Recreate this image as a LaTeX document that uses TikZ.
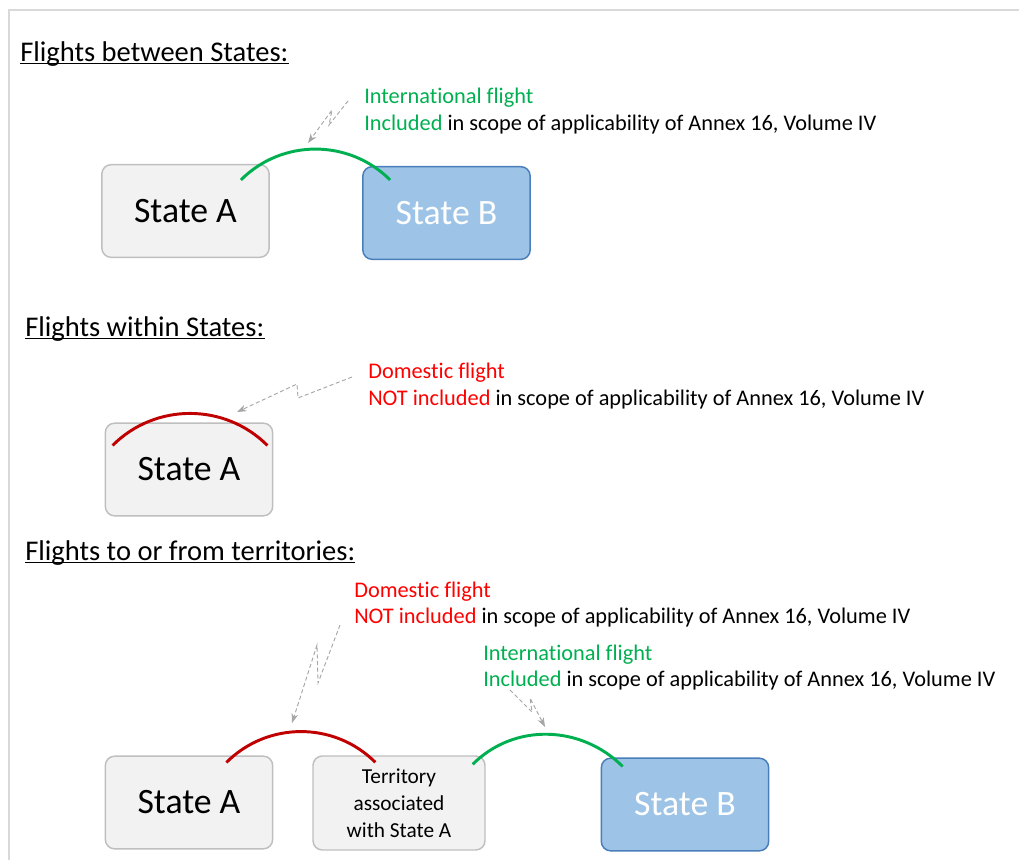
\documentclass[tikz,border=0pt]{standalone}
\usepackage{fontspec}
\setmainfont{Carlito}[Ligatures=CommonOff]
\usetikzlibrary{calc,arrows.meta}
\definecolor{flightgreen}{HTML}{00B050}
\definecolor{textred}{HTML}{FF0000}
\definecolor{arcred}{HTML}{C00000}
\definecolor{boxgray}{HTML}{F2F2F2}
\definecolor{boxline}{HTML}{BFBFBF}
\definecolor{stateblue}{HTML}{9DC3E6}
\definecolor{blueline}{HTML}{4A7EBB}
\definecolor{boltgray}{HTML}{A6A6A6}
\definecolor{framegray}{HTML}{D9D9D9}

\tikzset{
  statebox/.style={draw=boxline, fill=boxgray, line width=1.1pt, rounded corners=7pt,
    minimum width=125.5pt, minimum height=69.5pt, font=\fontsize{26.8}{32}\selectfont},
  bluebox/.style={statebox, draw=blueline, fill=stateblue, text=white},
  terrbox/.style={statebox, minimum width=129pt, minimum height=70.5pt, align=center,
    font=\fontsize{16}{20.25}\selectfont},
  heading/.style={anchor=base west, inner sep=0pt, font=\fontsize{21.4}{25}\selectfont},
  note/.style={anchor=base west, inner sep=0pt, font=\fontsize{16.75}{20}\selectfont},
  flight/.style={line width=2.2pt},
  bolt/.style={draw=boltgray, densely dashed, line width=0.7pt,
    -{Stealth[length=7pt,width=5pt,inset=2pt]}},
}

\begin{document}
\begin{tikzpicture}[x=0.75pt,y=-0.75pt]
  \useasboundingbox (0,0) rectangle (1019,860);
  \draw[framegray, line width=1.3pt] (9,860) -- (9,10) -- (1019,10);

  % flights between states
  \node[heading] (h1) at (20,61) {Flights between States:};
  \draw[line width=1pt] ([yshift=-2pt]h1.base west) -- ([yshift=-2pt]h1.base east);
  \node[statebox] (sa1) at (185.5,211) {State A};
  \node[bluebox] (sb1) at (446.5,213) {State B};
  \node[note] (intl1) at (364,103) {\textcolor{flightgreen}{International flight}};
  \node[note] (incl1) at (364,130) {\textcolor{flightgreen}{Included} in scope of applicability of Annex 16, Volume IV};
  \coordinate (g1a) at ($(sa1.north east)+(-29,16)$);
  \coordinate (g1b) at ($(sb1.north west)+(28,14)$);
  \draw[flight, flightgreen] (g1a) to[out=45,in=135] (g1b);
  \draw[bolt] (348,101) -- (329,125) -- (332,110) -- (308,143);

  % flights within states
  \node[heading] (h2) at (25,336) {Flights within States:};
  \draw[line width=1pt] ([yshift=-2pt]h2.base west) -- ([yshift=-2pt]h2.base east);
  \node[statebox] (sa2) at (189,469.5) {State A};
  \node[note] (dom2) at (368,378) {\textcolor{textred}{Domestic flight}};
  \node[note] (notinc2) at (368,405) {\textcolor{textred}{NOT included} in scope of applicability of Annex 16, Volume IV};
  \coordinate (r2a) at ($(sa2.north west)+(8,23)$);
  \coordinate (r2b) at ($(sa2.north east)+(-6,23)$);
  \draw[flight, arcred] (r2a) to[out=45,in=135] (r2b);
  \draw[bolt] (352,377) -- (298,398) -- (297,384) -- (237,412);

  % flights to or from territories
  \node[heading] (h3) at (25,560) {Flights to or from territories:};
  \draw[line width=1pt] ([yshift=-2pt]h3.base west) -- ([yshift=-2pt]h3.base east);
  \node[statebox] (sa3) at (189,802.5) {State A};
  \node[terrbox] (ter3) at (399,803) {Territory\\associated\\with State A};
  \node[bluebox] (sb3) at (685,804.5) {State B};
  \node[note] (dom3) at (354,597) {\textcolor{textred}{Domestic flight}};
  \node[note] (notinc3) at (354,623) {\textcolor{textred}{NOT included} in scope of applicability of Annex 16, Volume IV};
  \node[note] (intl3) at (483,660) {\textcolor{flightgreen}{International flight}};
  \node[note] (incl3) at (483,686) {\textcolor{flightgreen}{Included} in scope of applicability of Annex 16, Volume IV};
  \coordinate (r3a) at ($(sa3.north east)+(-47,7)$);
  \coordinate (r3b) at ($(ter3.north west)+(63,7)$);
  \draw[flight, arcred] (r3a) to[out=45,in=135] (r3b);
  \coordinate (g3a) at ($(ter3.north east)+(-13,9)$);
  \coordinate (g3b) at ($(sb3.north west)+(22,9)$);
  \draw[flight, flightgreen] (g3a) to[out=45,in=135] (g3b);
  \draw[bolt] (340,625) -- (318,683) -- (317,645) -- (292,723);
  \draw[bolt] (510,690) -- (532,712) -- (530,698) -- (545,727);
\end{tikzpicture}
\end{document}
